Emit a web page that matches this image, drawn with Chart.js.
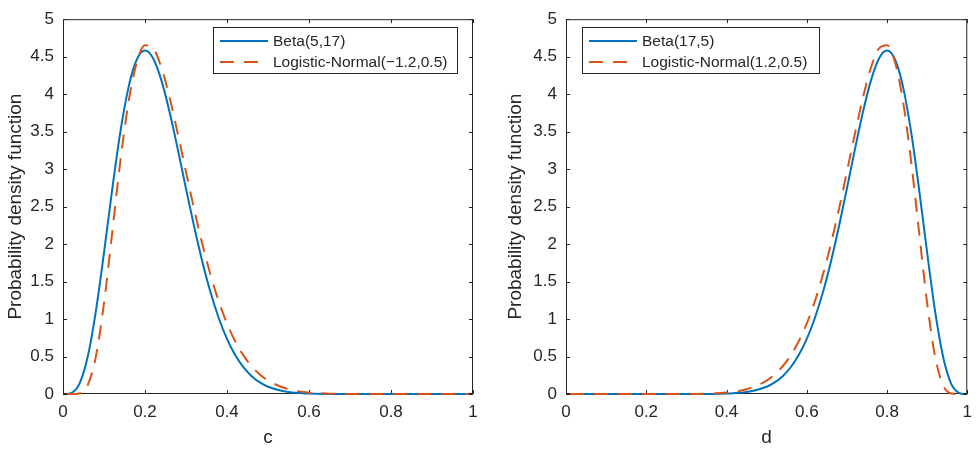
<!DOCTYPE html>
<html>
<head>
<meta charset="utf-8">
<script src="https://cdn.jsdelivr.net/npm/chart.js@4.4.1/dist/chart.umd.min.js"></script>
<style>
  html, body { margin: 0; padding: 0; background: #fff; }
  .panel { position: absolute; top: 0; width: 490px; height: 449px; }
</style>
</head>
<body>
<div class="panel" style="left:0"><canvas id="chartC" width="490" height="449"></canvas></div>
<div class="panel" style="left:490px"><canvas id="chartD" width="490" height="449"></canvas></div>
<script>
// Density curves, panel c
const cPoints = [0.01, 0.02, 0.04, 0.06, 0.08, 0.10, 0.12, 0.14, 0.16, 0.18, 0.20, 0.22, 0.24, 0.26,
  0.28, 0.30, 0.32, 0.34, 0.36, 0.38, 0.40, 0.42, 0.44, 0.46, 0.48, 0.50, 0.55, 0.60, 0.65, 0.70,
  0.75, 0.80, 0.85, 0.90, 0.95, 0.99];
const betaC = [0.001, 0.012, 0.136, 0.490, 1.098, 1.885, 2.728, 3.499, 4.097, 4.462, 4.582, 4.476,
  4.184, 3.761, 3.263, 2.739, 2.231, 1.762, 1.353, 1.011, 0.735, 0.519, 0.357, 0.238, 0.154, 0.097,
  0.026, 0.006, 0.001, 0, 0, 0, 0, 0, 0, 0];
const logitC = [0, 0, 0.008, 0.115, 0.495, 1.213, 2.152, 3.108, 3.901, 4.425, 4.652, 4.610, 4.355,
  3.955, 3.473, 2.963, 2.462, 1.998, 1.587, 1.234, 0.941, 0.703, 0.515, 0.370, 0.260, 0.179, 0.064,
  0.019, 0.005, 0.001, 0, 0, 0, 0, 0, 0];

// Density curves, panel d
const dPoints = [0.01, 0.05, 0.10, 0.15, 0.20, 0.25, 0.30, 0.35, 0.40, 0.45, 0.50, 0.52, 0.54, 0.56,
  0.58, 0.60, 0.62, 0.64, 0.66, 0.68, 0.70, 0.72, 0.74, 0.76, 0.78, 0.80, 0.82, 0.84, 0.86, 0.88,
  0.90, 0.92, 0.94, 0.96, 0.98, 0.99];
const betaD = [0, 0, 0, 0, 0, 0, 0, 0.001, 0.006, 0.026, 0.097, 0.154, 0.238, 0.357, 0.519, 0.735,
  1.011, 1.353, 1.762, 2.231, 2.739, 3.263, 3.761, 4.184, 4.476, 4.582, 4.462, 4.097, 3.499, 2.728,
  1.885, 1.098, 0.490, 0.136, 0.012, 0.001];
const logitD = [0, 0, 0, 0, 0, 0, 0.001, 0.005, 0.019, 0.064, 0.179, 0.260, 0.370, 0.515, 0.703,
  0.941, 1.234, 1.587, 1.998, 2.462, 2.963, 3.473, 3.955, 4.355, 4.610, 4.652, 4.425, 3.901, 3.108,
  2.152, 1.213, 0.495, 0.115, 0.008, 0, 0];

const xTicks = [0, 0.2, 0.4, 0.6, 0.8, 1];
const yTicks = [0, 0.5, 1, 1.5, 2, 2.5, 3, 3.5, 4, 4.5, 5];

const FONT = "'Liberation Sans', Arial, Helvetica, sans-serif";
const INK = '#262626';
const BLUE = '#0072BD';
const ORANGE = '#D95319';
const DASH = [14, 10];

// axes box with inward ticks on all four sides
const frame = {
  id: 'frame',
  beforeDatasetsDraw(chart) {
    const { ctx, chartArea: a, scales: { x, y } } = chart;
    ctx.save();
    ctx.strokeStyle = INK;
    ctx.lineWidth = 1;
    ctx.beginPath();
    ctx.rect(a.left + 0.5, a.top + 0.5, a.right - a.left - 1, a.bottom - a.top - 1);
    xTicks.forEach((v) => {
      const px = Math.round(x.getPixelForValue(v)) + 0.5;
      ctx.moveTo(px, a.bottom); ctx.lineTo(px, a.bottom - 4);
      ctx.moveTo(px, a.top); ctx.lineTo(px, a.top + 4);
    });
    yTicks.forEach((v) => {
      const py = Math.round(y.getPixelForValue(v)) + 0.5;
      ctx.moveTo(a.left, py); ctx.lineTo(a.left + 4, py);
      ctx.moveTo(a.right, py); ctx.lineTo(a.right - 4, py);
    });
    ctx.stroke();
    ctx.restore();
  }
};

// boxed legend inside the plot
const boxLegend = {
  id: 'boxLegend',
  afterDatasetsDraw(chart, args, opts) {
    const { ctx } = chart;
    ctx.save();
    ctx.fillStyle = '#fff';
    ctx.fillRect(opts.x, opts.y, opts.w, opts.h);
    ctx.strokeStyle = INK;
    ctx.lineWidth = 1;
    ctx.strokeRect(opts.x + 0.5, opts.y + 0.5, opts.w, opts.h);
    ctx.font = '15.5px ' + FONT;
    ctx.textBaseline = 'middle';
    chart.data.datasets.forEach((ds, i) => {
      const ry = opts.y + 14 + i * 21;
      ctx.strokeStyle = ds.borderColor;
      ctx.lineWidth = 2;
      ctx.setLineDash(ds.borderDash || []);
      ctx.beginPath();
      ctx.moveTo(opts.x + 7, ry);
      ctx.lineTo(opts.x + 55, ry);
      ctx.stroke();
      ctx.setLineDash([]);
      ctx.fillStyle = INK;
      ctx.fillText(ds.label, opts.x + 60, ry + 1);
    });
    ctx.restore();
  }
};

function makePanel(id, xs, beta, logit, names, axisName, pad, yWidth, legendBox) {
  const toXY = (vals) => xs.map((v, i) => ({ x: v, y: vals[i] }));
  return new Chart(document.getElementById(id), {
    type: 'line',
    data: {
      datasets: [
        { label: names[0], data: toXY(beta), borderColor: BLUE, borderWidth: 2, order: 1 },
        { label: names[1], data: toXY(logit), borderColor: ORANGE, borderWidth: 2, borderDash: DASH, order: 0 }
      ]
    },
    options: {
      responsive: false,
      animation: false,
      events: [],
      layout: { padding: pad },
      elements: {
        point: { radius: 0 },
        line: { cubicInterpolationMode: 'monotone', fill: false }
      },
      datasets: { line: { clip: 4 } },
      plugins: {
        legend: { display: false },
        tooltip: { enabled: false },
        boxLegend: legendBox
      },
      scales: {
        x: {
          type: 'linear', min: 0, max: 1,
          grid: { display: false, drawTicks: false },
          border: { display: false },
          afterBuildTicks: (s) => { s.ticks = xTicks.map((v) => ({ value: v })); },
          afterFit: (s) => { s.height = 55; },
          ticks: { color: INK, padding: 8, maxRotation: 0, autoSkip: false,
            font: { family: FONT, size: 17 }, callback: (v) => String(v) },
          title: { display: true, text: axisName, color: INK, padding: { top: 0, bottom: 0 },
            font: { family: FONT, size: 19 } }
        },
        y: {
          type: 'linear', min: 0, max: 5,
          grid: { display: false, drawTicks: false },
          border: { display: false },
          afterBuildTicks: (s) => { s.ticks = yTicks.map((v) => ({ value: v })); },
          afterFit: (s) => { s.width = yWidth; },
          ticks: { color: INK, padding: 9, autoSkip: false,
            font: { family: FONT, size: 17 }, callback: (v) => String(v) },
          title: { display: true, text: 'Probability density function', color: INK,
            padding: { top: 4, bottom: 0 }, font: { family: FONT, size: 19 } }
        }
      }
    },
    plugins: [frame, boxLegend]
  });
}

makePanel('chartC', cPoints, betaC, logitC, ['Beta(5,17)', 'Logistic-Normal(\u22121.2,0.5)'], 'c',
  { left: 0, right: 17, top: 12, bottom: 0 }, 63, { x: 213, y: 27, w: 244, h: 46 });
makePanel('chartD', dPoints, betaD, logitD, ['Beta(17,5)', 'Logistic-Normal(1.2,0.5)'], 'd',
  { left: 10, right: 5, top: 12, bottom: 0 }, 66, { x: 92, y: 27, w: 237, h: 46 });
</script>
</body>
</html>
